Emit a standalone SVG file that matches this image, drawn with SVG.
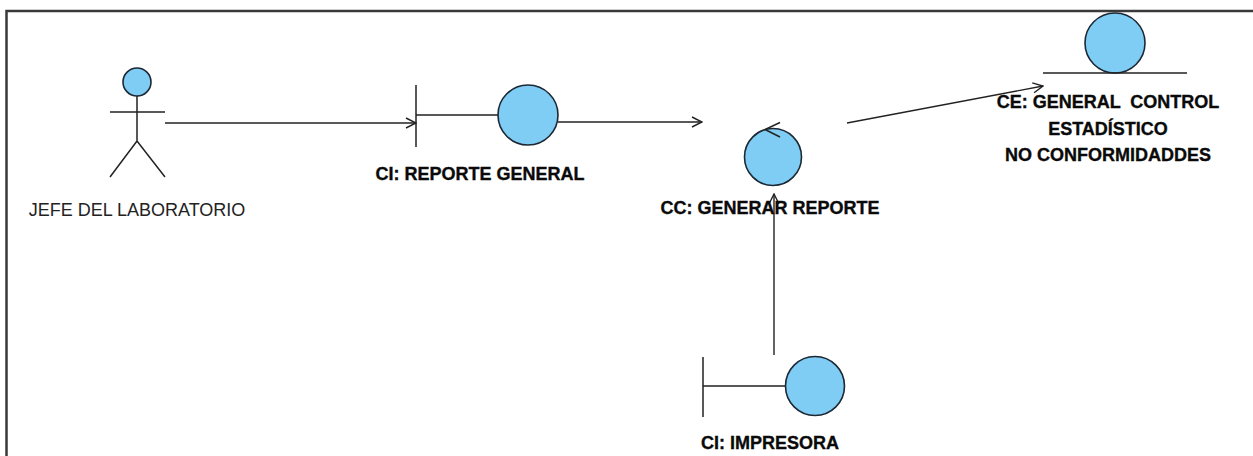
<svg xmlns="http://www.w3.org/2000/svg" width="1253" height="456" viewBox="0 0 1253 456">
  <style>
    .ball { fill: #7fcdf5; stroke: #1c2833; stroke-width: 1.6; }
    .ln { fill: none; stroke: #222; stroke-width: 1.5; }
    .conn { fill: none; stroke: #222; stroke-width: 1.4; }
    .lbl { font-family: "Liberation Sans", Arial, sans-serif; font-size: 18px; font-weight: bold; fill: #0a0a0a; stroke: #0a0a0a; stroke-width: 0.35; text-anchor: middle; white-space: pre; }
    .actor-lbl { font-family: "Liberation Sans", Arial, sans-serif; font-size: 18px; fill: #222; text-anchor: middle; }
  </style>
  <defs>
    <marker id="open" viewBox="0 0 12 12" refX="11" refY="6" markerWidth="12" markerHeight="12" markerUnits="userSpaceOnUse" orient="auto">
      <path d="M1,1 L11,6 L1,11" fill="none" stroke="#222" stroke-width="1.4"/>
    </marker>
  </defs>

  <rect width="1253" height="456" fill="#fff"/>
  <!-- page frame -->
  <path d="M6.5,456 V11 H1253" fill="none" stroke="#3a3a3a" stroke-width="2.5"/>

  <g id="connectors">
    <line class="conn" x1="165" y1="123" x2="416" y2="123" marker-end="url(#open)"/>
    <line class="conn" x1="558" y1="122" x2="702" y2="122" marker-end="url(#open)"/>
    <line class="conn" x1="774" y1="355" x2="774" y2="194" marker-end="url(#open)"/>
    <line class="conn" x1="847" y1="123" x2="1043" y2="86" marker-end="url(#open)"/>
  </g>

  <g id="actor-jefe">
    <circle class="ball" cx="137" cy="82" r="14"/>
    <path class="ln" d="M137,96 V141 M110,112 H165 M110,177 L137,141 L165,177"/>
    <text class="actor-lbl" x="137" y="216">JEFE DEL LABORATORIO</text>
  </g>

  <g id="ci-reporte-general">
    <path class="ln" d="M416,85 V147 M416,115 H498"/>
    <circle class="ball" cx="528" cy="115" r="30"/>
    <text class="lbl" x="480" y="180">CI: REPORTE GENERAL</text>
  </g>

  <g id="cc-generar-reporte">
    <circle class="ball" cx="773" cy="157" r="28.5"/>
    <path class="ln" d="M780,122.5 L765,129.5 L780,137"/>
    <text class="lbl" x="770" y="214">CC: GENERAR REPORTE</text>
  </g>

  <g id="ce-general-control">
    <circle class="ball" cx="1115" cy="43" r="30"/>
    <line class="ln" x1="1043" y1="73" x2="1187" y2="73"/>
    <text class="lbl" x="1108" y="108">CE: GENERAL  CONTROL</text>
    <text class="lbl" x="1108" y="135">ESTADÍSTICO</text>
    <text class="lbl" x="1108" y="161">NO CONFORMIDADDES</text>
  </g>

  <g id="ci-impresora">
    <path class="ln" d="M703,357 V417 M703,386 H785"/>
    <circle class="ball" cx="815" cy="386" r="29.5"/>
    <text class="lbl" x="770" y="449">CI: IMPRESORA</text>
  </g>
</svg>
